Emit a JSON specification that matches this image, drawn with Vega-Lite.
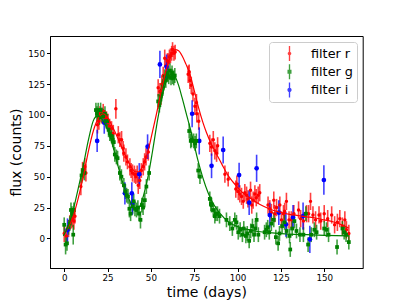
{
"$schema": "https://vega.github.io/schema/vega-lite/v6.json",
"width": 312.7, "height": 232,
"autosize": {"type": "none"},
"padding": {"left": 50, "top": 36, "right": 40.3, "bottom": 34},
"background": "white",
"config": {
 "font": "DejaVu Sans",
 "view": {"stroke": "black", "strokeWidth": 1},
 "axis": {"grid": false, "domainColor": "black", "tickColor": "black", "labelColor": "black", "titleColor": "black", "labelFontSize": 8.75, "titleFontSize": 14, "titleFontWeight": "normal", "tickSize": 3.5, "labelPadding": 2, "domainWidth": 1, "labelFont": "DejaVu Sans", "titleFont": "DejaVu Sans"},
 "legend": {"orient": "top-right", "offset": 6, "padding": 4, "strokeColor": "#cccccc", "fillColor": "rgba(255,255,255,0.8)", "cornerRadius": 3, "labelFontSize": 12.8, "labelFont": "DejaVu Sans", "labelColor": "black", "symbolSize": 225, "symbolStrokeWidth": 0, "symbolOffset": 9, "labelOffset": 14, "rowPadding": 3.2}
},
"datasets": {
 "obs": [
{"t":0,"f":4,"e":7,"s":"r"},{"t":1.2,"f":2,"e":7,"s":"r"},{"t":2.5,"f":8,"e":7,"s":"r"},{"t":3.3,"f":13,"e":6,"s":"r"},{"t":4.2,"f":15,"e":7,"s":"r"},{"t":4.8,"f":16,"e":7,"s":"r"},{"t":5.6,"f":14,"e":7,"s":"r"},{"t":6.2,"f":18,"e":6,"s":"r"},{"t":9.6,"f":42,"e":7,"s":"r"},{"t":10.6,"f":55,"e":7,"s":"r"},{"t":11.9,"f":58,"e":7,"s":"r"},{"t":12.5,"f":53,"e":7,"s":"r"},{"t":19.2,"f":92,"e":7,"s":"r"},{"t":20,"f":95,"e":7,"s":"r"},{"t":20.6,"f":101,"e":6,"s":"r"},{"t":21.5,"f":99,"e":6,"s":"r"},{"t":22.5,"f":103,"e":6,"s":"r"},{"t":23.4,"f":98,"e":6,"s":"r"},{"t":24.4,"f":97,"e":6,"s":"r"},{"t":25.3,"f":94,"e":7,"s":"r"},{"t":26.2,"f":91,"e":6,"s":"r"},{"t":27.3,"f":89,"e":6,"s":"r"},{"t":28.3,"f":85,"e":7,"s":"r"},{"t":29.8,"f":105,"e":8,"s":"r"},{"t":31.2,"f":84,"e":7,"s":"r"},{"t":32.1,"f":80,"e":6,"s":"r"},{"t":33.1,"f":80,"e":7,"s":"r"},{"t":34,"f":73,"e":6,"s":"r"},{"t":34.4,"f":69,"e":7,"s":"r"},{"t":35.6,"f":66,"e":7,"s":"r"},{"t":36.5,"f":62,"e":6,"s":"r"},{"t":37.9,"f":58,"e":7,"s":"r"},{"t":38.6,"f":55,"e":6,"s":"r"},{"t":39.4,"f":53,"e":7,"s":"r"},{"t":40.5,"f":52,"e":7,"s":"r"},{"t":41.3,"f":50,"e":6,"s":"r"},{"t":42.1,"f":52,"e":7,"s":"r"},{"t":42.7,"f":43,"e":7,"s":"r"},{"t":43.6,"f":47,"e":7,"s":"r"},{"t":44.5,"f":55,"e":6,"s":"r"},{"t":45.6,"f":58,"e":7,"s":"r"},{"t":46.4,"f":62,"e":7,"s":"r"},{"t":47.2,"f":66,"e":7,"s":"r"},{"t":48.5,"f":70,"e":7,"s":"r"},{"t":54.2,"f":122,"e":7,"s":"r"},{"t":55.2,"f":119,"e":7,"s":"r"},{"t":55.8,"f":115,"e":7,"s":"r"},{"t":56.3,"f":125,"e":7,"s":"r"},{"t":57.1,"f":132,"e":7,"s":"r"},{"t":58,"f":146,"e":7,"s":"r"},{"t":58.8,"f":140,"e":6,"s":"r"},{"t":59.5,"f":144,"e":6,"s":"r"},{"t":60,"f":143,"e":7,"s":"r"},{"t":60.7,"f":147,"e":6,"s":"r"},{"t":61.3,"f":148,"e":6,"s":"r"},{"t":62,"f":150,"e":6,"s":"r"},{"t":62.5,"f":153,"e":6,"s":"r"},{"t":63.3,"f":150,"e":6,"s":"r"},{"t":64,"f":151,"e":6,"s":"r"},{"t":71.5,"f":133,"e":7,"s":"r"},{"t":72.1,"f":135,"e":6,"s":"r"},{"t":72.5,"f":128,"e":7,"s":"r"},{"t":73.3,"f":124,"e":7,"s":"r"},{"t":74.3,"f":117,"e":6,"s":"r"},{"t":75.4,"f":107,"e":7,"s":"r"},{"t":76.3,"f":110,"e":7,"s":"r"},{"t":76.5,"f":101,"e":7,"s":"r"},{"t":77.6,"f":95,"e":7,"s":"r"},{"t":84,"f":77,"e":7,"s":"r"},{"t":85,"f":74,"e":7,"s":"r"},{"t":86,"f":80,"e":7,"s":"r"},{"t":86.9,"f":71,"e":7,"s":"r"},{"t":87.9,"f":69,"e":7,"s":"r"},{"t":88.5,"f":75,"e":7,"s":"r"},{"t":92.7,"f":52,"e":7,"s":"r"},{"t":94.6,"f":48,"e":6,"s":"r"},{"t":99,"f":40,"e":7,"s":"r"},{"t":99.6,"f":44,"e":7,"s":"r"},{"t":100.4,"f":38,"e":7,"s":"r"},{"t":101.3,"f":36,"e":7,"s":"r"},{"t":102.3,"f":34,"e":7,"s":"r"},{"t":103.3,"f":30,"e":6,"s":"r"},{"t":104.2,"f":37,"e":7,"s":"r"},{"t":105.2,"f":35,"e":7,"s":"r"},{"t":106,"f":32,"e":7,"s":"r"},{"t":107.5,"f":39,"e":7,"s":"r"},{"t":108.2,"f":27,"e":7,"s":"r"},{"t":109,"f":31,"e":7,"s":"r"},{"t":110,"f":36,"e":7,"s":"r"},{"t":110.8,"f":33,"e":7,"s":"r"},{"t":111.9,"f":35,"e":7,"s":"r"},{"t":112.8,"f":37,"e":7,"s":"r"},{"t":117.6,"f":27,"e":7,"s":"r"},{"t":118.6,"f":24,"e":7,"s":"r"},{"t":119.5,"f":21,"e":7,"s":"r"},{"t":120.9,"f":31,"e":7,"s":"r"},{"t":121.5,"f":20,"e":7,"s":"r"},{"t":122.5,"f":25,"e":7,"s":"r"},{"t":124.4,"f":27,"e":7,"s":"r"},{"t":125.3,"f":15,"e":7,"s":"r"},{"t":126.5,"f":20,"e":7,"s":"r"},{"t":127.2,"f":22,"e":7,"s":"r"},{"t":128.2,"f":30,"e":7,"s":"r"},{"t":129.7,"f":15,"e":7,"s":"r"},{"t":131,"f":15,"e":7,"s":"r"},{"t":132.5,"f":20,"e":7,"s":"r"},{"t":135.2,"f":23,"e":7,"s":"r"},{"t":136.4,"f":16,"e":7,"s":"r"},{"t":138,"f":14,"e":7,"s":"r"},{"t":139.8,"f":20,"e":7,"s":"r"},{"t":141,"f":20,"e":7,"s":"r"},{"t":142.1,"f":30,"e":7,"s":"r"},{"t":143.5,"f":19,"e":7,"s":"r"},{"t":145,"f":15,"e":7,"s":"r"},{"t":147,"f":19,"e":7,"s":"r"},{"t":148,"f":14,"e":7,"s":"r"},{"t":150,"f":20,"e":7,"s":"r"},{"t":152,"f":16,"e":7,"s":"r"},{"t":154.3,"f":19,"e":7,"s":"r"},{"t":156,"f":11,"e":7,"s":"r"},{"t":157.6,"f":13,"e":7,"s":"r"},{"t":159,"f":16,"e":7,"s":"r"},{"t":160.5,"f":10,"e":7,"s":"r"},{"t":161.9,"f":15,"e":7,"s":"r"},{"t":162.8,"f":7,"e":7,"s":"r"},{"t":164.2,"f":4,"e":7,"s":"r"},
{"t":0,"f":11,"e":6,"s":"g"},{"t":0.8,"f":-5,"e":8,"s":"g"},{"t":1.6,"f":-4,"e":6,"s":"g"},{"t":2.5,"f":9,"e":6,"s":"g"},{"t":3.2,"f":12,"e":6,"s":"g"},{"t":3.9,"f":23,"e":6,"s":"g"},{"t":4.5,"f":20,"e":6,"s":"g"},{"t":5.2,"f":3,"e":8,"s":"g"},{"t":5.6,"f":23,"e":6,"s":"g"},{"t":10,"f":51,"e":6,"s":"g"},{"t":11,"f":55,"e":6,"s":"g"},{"t":11.6,"f":53,"e":6,"s":"g"},{"t":18.3,"f":104,"e":6,"s":"g"},{"t":18.9,"f":101,"e":6,"s":"g"},{"t":19.6,"f":104,"e":6,"s":"g"},{"t":20.3,"f":98,"e":6,"s":"g"},{"t":21,"f":104,"e":6,"s":"g"},{"t":21.8,"f":100,"e":6,"s":"g"},{"t":22.5,"f":99,"e":6,"s":"g"},{"t":23.5,"f":101,"e":6,"s":"g"},{"t":24.2,"f":95,"e":6,"s":"g"},{"t":24.8,"f":95,"e":6,"s":"g"},{"t":25.6,"f":88,"e":6,"s":"g"},{"t":26.3,"f":85,"e":6,"s":"g"},{"t":27.3,"f":83,"e":6,"s":"g"},{"t":28,"f":80,"e":6,"s":"g"},{"t":28.6,"f":78,"e":6,"s":"g"},{"t":29.2,"f":68,"e":6,"s":"g"},{"t":30.1,"f":66,"e":6,"s":"g"},{"t":30.8,"f":65,"e":6,"s":"g"},{"t":32.1,"f":53,"e":6,"s":"g"},{"t":33,"f":50,"e":6,"s":"g"},{"t":34.4,"f":43,"e":6,"s":"g"},{"t":35.3,"f":38,"e":6,"s":"g"},{"t":36,"f":35,"e":6,"s":"g"},{"t":36.8,"f":34,"e":6,"s":"g"},{"t":37.6,"f":24,"e":7,"s":"g"},{"t":38.3,"f":20,"e":6,"s":"g"},{"t":39.5,"f":26,"e":6,"s":"g"},{"t":40.1,"f":30,"e":6,"s":"g"},{"t":40.8,"f":24,"e":6,"s":"g"},{"t":41.7,"f":23,"e":6,"s":"g"},{"t":42.5,"f":25,"e":6,"s":"g"},{"t":43.2,"f":20,"e":6,"s":"g"},{"t":44,"f":15,"e":7,"s":"g"},{"t":44.8,"f":27,"e":6,"s":"g"},{"t":45.5,"f":25,"e":6,"s":"g"},{"t":46.5,"f":31,"e":6,"s":"g"},{"t":47.4,"f":42,"e":6,"s":"g"},{"t":49,"f":53,"e":6,"s":"g"},{"t":54.2,"f":111,"e":6,"s":"g"},{"t":54.9,"f":108,"e":6,"s":"g"},{"t":55.6,"f":115,"e":6,"s":"g"},{"t":56.2,"f":117,"e":6,"s":"g"},{"t":56.8,"f":123,"e":6,"s":"g"},{"t":57.4,"f":126,"e":6,"s":"g"},{"t":58,"f":131,"e":6,"s":"g"},{"t":58.6,"f":128,"e":6,"s":"g"},{"t":59.2,"f":134,"e":6,"s":"g"},{"t":59.7,"f":133,"e":6,"s":"g"},{"t":60.3,"f":131,"e":6,"s":"g"},{"t":61,"f":136,"e":6,"s":"g"},{"t":61.6,"f":130,"e":6,"s":"g"},{"t":62.2,"f":134,"e":6,"s":"g"},{"t":62.5,"f":131,"e":6,"s":"g"},{"t":63.2,"f":130,"e":6,"s":"g"},{"t":63.8,"f":132,"e":6,"s":"g"},{"t":72.1,"f":87,"e":6,"s":"g"},{"t":73,"f":79,"e":6,"s":"g"},{"t":73.4,"f":80,"e":6,"s":"g"},{"t":74.7,"f":79,"e":6,"s":"g"},{"t":75.5,"f":77,"e":6,"s":"g"},{"t":76.2,"f":79,"e":6,"s":"g"},{"t":77.3,"f":55,"e":6,"s":"g"},{"t":78.3,"f":50,"e":6,"s":"g"},{"t":84,"f":32,"e":6,"s":"g"},{"t":84.6,"f":28,"e":6,"s":"g"},{"t":85,"f":27,"e":6,"s":"g"},{"t":86,"f":23,"e":6,"s":"g"},{"t":86.9,"f":18,"e":6,"s":"g"},{"t":87.5,"f":20,"e":6,"s":"g"},{"t":88.4,"f":20,"e":6,"s":"g"},{"t":89.6,"f":18,"e":6,"s":"g"},{"t":93.6,"f":15,"e":6,"s":"g"},{"t":95.5,"f":12,"e":6,"s":"g"},{"t":97,"f":8,"e":6,"s":"g"},{"t":98.4,"f":15,"e":6,"s":"g"},{"t":99.4,"f":13,"e":6,"s":"g"},{"t":100.4,"f":5,"e":6,"s":"g"},{"t":101.5,"f":7,"e":6,"s":"g"},{"t":102.8,"f":3,"e":6,"s":"g"},{"t":103.6,"f":8,"e":6,"s":"g"},{"t":104.8,"f":2,"e":6,"s":"g"},{"t":105.6,"f":4,"e":6,"s":"g"},{"t":106.7,"f":-2,"e":6,"s":"g"},{"t":107.6,"f":6,"e":6,"s":"g"},{"t":108.6,"f":10,"e":6,"s":"g"},{"t":109.5,"f":3,"e":6,"s":"g"},{"t":110.3,"f":8,"e":6,"s":"g"},{"t":111,"f":15,"e":6,"s":"g"},{"t":112,"f":3,"e":6,"s":"g"},{"t":115.6,"f":5,"e":6,"s":"g"},{"t":116.6,"f":7,"e":6,"s":"g"},{"t":117.4,"f":9,"e":6,"s":"g"},{"t":118.3,"f":5,"e":6,"s":"g"},{"t":119.5,"f":12,"e":6,"s":"g"},{"t":120.9,"f":15,"e":6,"s":"g"},{"t":122.1,"f":1,"e":6,"s":"g"},{"t":123.4,"f":-4,"e":6,"s":"g"},{"t":124.2,"f":4,"e":6,"s":"g"},{"t":125.7,"f":10,"e":6,"s":"g"},{"t":127.1,"f":13,"e":6,"s":"g"},{"t":128.3,"f":6,"e":6,"s":"g"},{"t":130,"f":2,"e":6,"s":"g"},{"t":130.4,"f":-9,"e":6,"s":"g"},{"t":131.5,"f":8,"e":6,"s":"g"},{"t":132.8,"f":14,"e":6,"s":"g"},{"t":134,"f":6,"e":6,"s":"g"},{"t":136,"f":3,"e":6,"s":"g"},{"t":138,"f":3,"e":6,"s":"g"},{"t":139.4,"f":20,"e":6,"s":"g"},{"t":140.7,"f":-5,"e":6,"s":"g"},{"t":142.5,"f":3,"e":6,"s":"g"},{"t":144.3,"f":7,"e":6,"s":"g"},{"t":145.6,"f":5,"e":6,"s":"g"},{"t":150,"f":8,"e":6,"s":"g"},{"t":151.3,"f":7,"e":6,"s":"g"},{"t":152.5,"f":3,"e":6,"s":"g"},{"t":157.4,"f":-7,"e":6,"s":"g"},{"t":160.5,"f":8,"e":6,"s":"g"},{"t":161.5,"f":5,"e":6,"s":"g"},{"t":162.6,"f":3,"e":6,"s":"g"},{"t":164.2,"f":-3,"e":6,"s":"g"},
{"t":1.9,"f":6.7,"e":9.5,"s":"i"},{"t":19,"f":79,"e":9,"s":"i"},{"t":23.1,"f":93.8,"e":9,"s":"i"},{"t":35,"f":36.5,"e":9,"s":"i"},{"t":39,"f":36.5,"e":9,"s":"i"},{"t":39.3,"f":28,"e":9,"s":"i"},{"t":43.3,"f":52,"e":9,"s":"i"},{"t":48.1,"f":74.3,"e":10,"s":"i"},{"t":55.2,"f":141,"e":11,"s":"i"},{"t":59,"f":139,"e":10,"s":"i"},{"t":73.8,"f":101,"e":11,"s":"i"},{"t":77.9,"f":79,"e":11,"s":"i"},{"t":85,"f":58.8,"e":10,"s":"i"},{"t":91.7,"f":71.6,"e":11,"s":"i"},{"t":100.9,"f":51.3,"e":10,"s":"i"},{"t":106.7,"f":28.9,"e":10,"s":"i"},{"t":111,"f":56.8,"e":11,"s":"i"},{"t":118.6,"f":18.9,"e":10,"s":"i"},{"t":123.8,"f":20.8,"e":10,"s":"i"},{"t":127.9,"f":11.4,"e":10,"s":"i"},{"t":132,"f":17,"e":10,"s":"i"},{"t":137.8,"f":18.1,"e":11,"s":"i"},{"t":141.7,"f":-0.8,"e":11,"s":"i"},{"t":149.8,"f":47.3,"e":12,"s":"i"}
 ],
 "fits": [
{"t":-0.5,"f":3,"s":"r"},{"t":2,"f":8,"s":"r"},{"t":5,"f":17,"s":"r"},{"t":8,"f":32,"s":"r"},{"t":11,"f":50,"s":"r"},{"t":14,"f":71,"s":"r"},{"t":17,"f":88,"s":"r"},{"t":20,"f":98,"s":"r"},{"t":22.5,"f":101,"s":"r"},{"t":25,"f":98,"s":"r"},{"t":28,"f":90,"s":"r"},{"t":31,"f":81,"s":"r"},{"t":34,"f":71,"s":"r"},{"t":37,"f":62,"s":"r"},{"t":39,"f":57,"s":"r"},{"t":41,"f":54,"s":"r"},{"t":43,"f":54,"s":"r"},{"t":45,"f":58,"s":"r"},{"t":48,"f":69,"s":"r"},{"t":51,"f":87,"s":"r"},{"t":54,"f":106,"s":"r"},{"t":56,"f":120,"s":"r"},{"t":58,"f":132,"s":"r"},{"t":60,"f":142,"s":"r"},{"t":62,"f":149,"s":"r"},{"t":64,"f":153,"s":"r"},{"t":66,"f":152,"s":"r"},{"t":68,"f":148,"s":"r"},{"t":70,"f":142,"s":"r"},{"t":72.5,"f":133,"s":"r"},{"t":75,"f":120,"s":"r"},{"t":77.5,"f":106,"s":"r"},{"t":80,"f":94,"s":"r"},{"t":82,"f":86,"s":"r"},{"t":85,"f":76,"s":"r"},{"t":88,"f":68,"s":"r"},{"t":91,"f":60,"s":"r"},{"t":95,"f":50,"s":"r"},{"t":99,"f":43,"s":"r"},{"t":103,"f":37,"s":"r"},{"t":107,"f":33,"s":"r"},{"t":111,"f":29,"s":"r"},{"t":115,"f":26,"s":"r"},{"t":120,"f":23,"s":"r"},{"t":125,"f":21,"s":"r"},{"t":130,"f":19.5,"s":"r"},{"t":135,"f":18.5,"s":"r"},{"t":140,"f":17.5,"s":"r"},{"t":145,"f":16.5,"s":"r"},{"t":150,"f":15,"s":"r"},{"t":155,"f":13.5,"s":"r"},{"t":160,"f":11,"s":"r"},{"t":164,"f":8.5,"s":"r"},
{"t":-0.5,"f":2,"s":"g"},{"t":2,"f":9,"s":"g"},{"t":5,"f":22,"s":"g"},{"t":8,"f":40,"s":"g"},{"t":11,"f":59,"s":"g"},{"t":14,"f":80,"s":"g"},{"t":16.7,"f":95,"s":"g"},{"t":19,"f":99,"s":"g"},{"t":21,"f":98,"s":"g"},{"t":23,"f":94,"s":"g"},{"t":25,"f":88,"s":"g"},{"t":28,"f":75,"s":"g"},{"t":31,"f":59,"s":"g"},{"t":34,"f":44,"s":"g"},{"t":36,"f":36,"s":"g"},{"t":38,"f":30,"s":"g"},{"t":40,"f":25,"s":"g"},{"t":42,"f":23.5,"s":"g"},{"t":44,"f":27,"s":"g"},{"t":46,"f":36,"s":"g"},{"t":48.5,"f":51,"s":"g"},{"t":51,"f":71,"s":"g"},{"t":54,"f":97,"s":"g"},{"t":57,"f":118,"s":"g"},{"t":60,"f":131,"s":"g"},{"t":62,"f":133,"s":"g"},{"t":64,"f":131,"s":"g"},{"t":66,"f":124,"s":"g"},{"t":68,"f":114,"s":"g"},{"t":71,"f":98,"s":"g"},{"t":74,"f":82,"s":"g"},{"t":77,"f":64,"s":"g"},{"t":80,"f":49,"s":"g"},{"t":83,"f":37,"s":"g"},{"t":86,"f":28,"s":"g"},{"t":90,"f":20,"s":"g"},{"t":95,"f":13,"s":"g"},{"t":100,"f":9.5,"s":"g"},{"t":105,"f":7.5,"s":"g"},{"t":110,"f":6,"s":"g"},{"t":120,"f":4.5,"s":"g"},{"t":130,"f":3.5,"s":"g"},{"t":140,"f":3,"s":"g"},{"t":150,"f":2.5,"s":"g"},{"t":164,"f":2,"s":"g"}
 ]
},
"encoding": {
 "x": {"field": "t", "type": "quantitative", "title": "time (days)", "scale": {"domain": [-8.2, 172.2], "nice": false, "zero": false}, "axis": {"values": [0, 25, 50, 75, 100, 125, 150], "titlePadding": 3}},
 "y": {"field": "f", "type": "quantitative", "title": "flux (counts)", "scale": {"domain": [-24, 164], "nice": false, "zero": false}, "axis": {"values": [0, 25, 50, 75, 100, 125, 150], "titlePadding": 4}},
 "color": {"field": "s", "type": "nominal", "scale": {"domain": ["r", "g", "i"], "range": ["#ff0000", "#008000", "#0000ff"]}, "legend": {"title": null, "labelExpr": "'filter ' + datum.label"}}
},
"layer": [
 {"data": {"name": "obs"}, "mark": {"type": "errorbar", "thickness": 1.6, "opacity": 0.75},
  "encoding": {"yError": {"field": "e"}}},
 {"data": {"name": "obs"}, "transform": [{"filter": "datum.s !== 'g'"}], "mark": {"type": "circle", "opacity": 1},
  "encoding": {"size": {"field": "s", "type": "nominal", "scale": {"domain": ["r", "i"], "range": [12, 22]}, "legend": null}}},
 {"data": {"name": "obs"}, "transform": [{"filter": "datum.s === 'g'"}], "mark": {"type": "square", "opacity": 1, "size": 14}},
 {"data": {"name": "fits"}, "mark": {"type": "line", "strokeWidth": 1.2, "interpolate": "monotone"},
  "encoding": {"detail": {"field": "s"}}},
 {"data": {"name": "obs"}, "transform": [{"filter": "datum.t < -100"}], "mark": {"type": "point", "filled": true, "size": 225, "opacity": 1},
  "encoding": {
   "shape": {"field": "s", "type": "nominal", "scale": {"domain": ["r", "g", "i"], "range": [
     "M-0.09,-1H0.09V1H-0.09Z M0.24,0A0.24,0.24,0,1,1,-0.24,0A0.24,0.24,0,1,1,0.24,0Z",
     "M-0.09,-1H0.09V1H-0.09Z M-0.27,-0.27H0.27V0.27H-0.27Z",
     "M-0.09,-1H0.09V1H-0.09Z M0.28,0A0.28,0.28,0,1,1,-0.28,0A0.28,0.28,0,1,1,0.28,0Z"]},
    "legend": {"title": null, "labelExpr": "'filter ' + datum.label"}}
  }}
]
}
